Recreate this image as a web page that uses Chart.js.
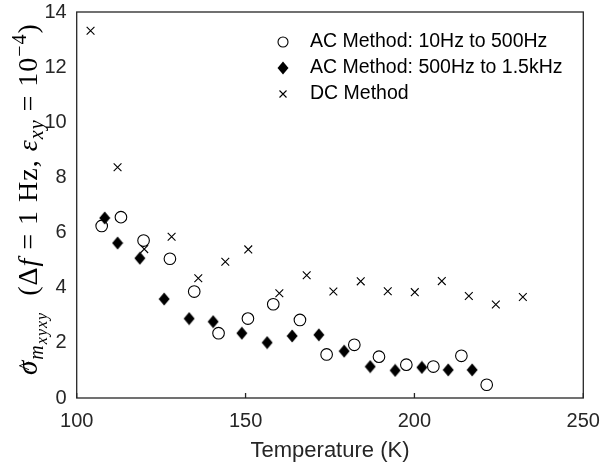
<!DOCTYPE html>
<html lang="en">
<head>
<meta charset="UTF-8">
<title>Sigma vs temperature</title>
<script src="https://cdn.jsdelivr.net/npm/chart.js"></script>
<style>
  html, body { margin: 0; padding: 0; background: #fff; }
  #wrap { width: 602px; height: 471px; }
</style>
</head>
<body>
<div id="wrap"><canvas id="chart" width="602" height="471"></canvas></div>
<script>
// values
const acLowT  = [107.4, 113.1, 119.8, 127.6, 134.8, 142.0, 150.7, 158.2, 166.1, 174.0, 182.2, 189.5, 197.6, 205.6, 213.9, 221.4];
const acLowY  = [6.24, 6.56, 5.71, 5.05, 3.86, 2.35, 2.88, 3.40, 2.83, 1.58, 1.93, 1.50, 1.21, 1.14, 1.53, 0.48];
const acHighT = [108.3, 112.1, 118.7, 125.9, 133.3, 140.4, 148.9, 156.4, 163.8, 171.7, 179.2, 186.9, 194.3, 202.2, 210.0, 217.1];
const acHighY = [6.53, 5.62, 5.07, 3.59, 2.88, 2.77, 2.35, 2.01, 2.25, 2.29, 1.70, 1.14, 1.00, 1.11, 1.02, 1.02];
const dcT     = [104.1, 112.1, 120.0, 128.1, 136.0, 144.0, 150.8, 160.0, 168.1, 176.0, 184.1, 192.1, 200.1, 208.1, 216.1, 224.1, 232.1];
const dcY     = [13.32, 8.37, 5.40, 5.85, 4.34, 4.94, 5.39, 3.80, 4.45, 3.86, 4.23, 3.87, 3.84, 4.24, 3.70, 3.39, 3.66];

const seriesLabels = ['AC Method: 10Hz to 500Hz', 'AC Method: 500Hz to 1.5kHz', 'DC Method'];
const xTicks = [100, 150, 200, 250];
const yTicks = [0, 2, 4, 6, 8, 10, 12, 14];
const xTitle = 'Temperature (K)';

const axisColor = '#262626';
const sans = '"Liberation Sans", Arial, sans-serif';
const serif = '"Liberation Serif", "DejaVu Serif", serif';

function pts(xs, ys) {
  return xs.map((v, i) => ({ x: v, y: ys[i] }));
}

// filled diamond marker (a bit taller than wide, like matlab's 'd')
const diamond = document.createElement('canvas');
diamond.width = 12; diamond.height = 14;
(function () {
  const g = diamond.getContext('2d');
  g.fillStyle = '#000';
  g.beginPath();
  g.moveTo(6, 0.5); g.lineTo(11.5, 7); g.lineTo(6, 13.5); g.lineTo(0.5, 7);
  g.closePath();
  g.fill();
})();

// y axis title: \hat{\sigma}_{m_{xyxy}} (\Delta f = 1 Hz, \varepsilon_{xy} = 10^{-4})
const S = 28;
const sub = Math.round(S * 0.72), subsub = Math.round(S * 0.56);
const yTitleParts = [
  { t: 'σ', f: `italic ${S + 1}px ${serif}`, dy: 0, hat: true },
  { t: 'm', f: `italic ${sub}px ${serif}`, dy: 6 },
  { t: 'xyxy', f: `italic ${subsub}px ${serif}`, dy: 10 },
  { t: '  (Δ', f: `${S}px ${serif}`, dy: 0 },
  { t: 'f', f: `italic ${S}px ${serif}`, dy: 0 },
  { t: ' = 1 Hz, ', f: `${S}px ${serif}`, dy: 0 },
  { t: 'ε', f: `italic ${S}px ${serif}`, dy: 0 },
  { t: 'xy', f: `italic ${sub}px ${serif}`, dy: 6 },
  { t: ' = 10', f: `${S}px ${serif}`, dy: 0 },
  { t: '−4', f: `${sub}px ${serif}`, dy: -11 },
  { t: ')', f: `${S}px ${serif}`, dy: 0 }
];

const decor = {
  id: 'decor',
  afterDraw(chart) {
    const { ctx, chartArea: a, scales: { x } } = chart;
    ctx.save();
    // box
    ctx.strokeStyle = axisColor;
    ctx.lineWidth = 1.3;
    ctx.strokeRect(a.left, a.top, a.right - a.left, a.bottom - a.top);
    // inward ticks on the bottom axis
    ctx.beginPath();
    xTicks.forEach(v => {
      const px = x.getPixelForValue(v);
      ctx.moveTo(px, a.bottom);
      ctx.lineTo(px, a.bottom - 5);
    });
    ctx.stroke();

    // rotated y title
    ctx.fillStyle = '#000';
    ctx.textBaseline = 'alphabetic';
    ctx.textAlign = 'left';
    ctx.letterSpacing = '1px';
    let total = 0;
    yTitleParts.forEach(p => { ctx.font = p.f; p.w = ctx.measureText(p.t).width; total += p.w; });
    ctx.translate(37, 199);
    ctx.rotate(-Math.PI / 2);
    let cx = -total / 2;
    yTitleParts.forEach(p => {
      ctx.font = p.f;
      ctx.fillText(p.t, cx, p.dy);
      if (p.hat) {
        ctx.font = `${Math.round(S * 0.7)}px ${serif}`;
        ctx.textAlign = 'center';
        ctx.fillText('^', cx + p.w / 2 + 2, p.dy - 4);
        ctx.textAlign = 'left';
      }
      cx += p.w;
    });
    ctx.restore();

    // legend, no frame
    ctx.save();
    const lx = 283, tx = 310, rows = [42, 68, 94];
    ctx.font = `19.5px ${sans}`;
    ctx.fillStyle = '#000';
    ctx.textBaseline = 'middle';
    chart.data.datasets.forEach((ds, i) => {
      const y = rows[i];
      ctx.strokeStyle = '#000';
      ctx.lineWidth = 1.1;
      if (i === 0) {
        ctx.beginPath(); ctx.arc(lx, y, 5, 0, Math.PI * 2); ctx.stroke();
      } else if (i === 1) {
        ctx.drawImage(diamond, lx - 6, y - 7);
      } else {
        ctx.beginPath();
        ctx.moveTo(lx - 3.5, y - 3.5); ctx.lineTo(lx + 3.5, y + 3.5);
        ctx.moveTo(lx + 3.5, y - 3.5); ctx.lineTo(lx - 3.5, y + 3.5);
        ctx.stroke();
      }
      ctx.fillText(ds.label, tx, y);
    });
    ctx.restore();
  }
};

new Chart(document.getElementById('chart').getContext('2d'), {
  type: 'scatter',
  data: {
    datasets: [
      {
        label: seriesLabels[0],
        data: pts(acLowT, acLowY),
        pointStyle: 'circle',
        pointRadius: 5.8,
        borderColor: '#000',
        backgroundColor: 'rgba(0,0,0,0)',
        pointBorderWidth: 1.1
      },
      {
        label: seriesLabels[1],
        data: pts(acHighT, acHighY),
        pointStyle: diamond,
        pointRadius: 6,
        borderColor: '#000',
        backgroundColor: '#000'
      },
      {
        label: seriesLabels[2],
        data: pts(dcT, dcY),
        pointStyle: 'crossRot',
        pointRadius: 5.5,
        borderColor: '#000',
        backgroundColor: '#000',
        pointBorderWidth: 1.1
      }
    ]
  },
  options: {
    responsive: false,
    animation: false,
    layout: { padding: { left: 0, right: 18.7, top: 12, bottom: 0 } },
    plugins: { legend: { display: false }, tooltip: { enabled: false } },
    scales: {
      x: {
        type: 'linear',
        min: 100, max: 250,
        afterBuildTicks: s => { s.ticks = xTicks.map(v => ({ value: v })); },
        afterFit: s => { s.height = 73; s.paddingLeft = 0; s.paddingRight = 0; },
        grid: { display: false, drawTicks: false },
        border: { display: false },
        ticks: { padding: 11, color: axisColor, font: { family: sans, size: 20 } },
        title: {
          display: true, text: xTitle, color: axisColor,
          font: { family: sans, size: 22 }, padding: { top: 0, bottom: 7 }
        }
      },
      y: {
        type: 'linear',
        min: 0, max: 14,
        afterBuildTicks: s => { s.ticks = yTicks.map(v => ({ value: v })); },
        afterFit: s => { s.width = 76.7; s.paddingTop = 0; s.paddingBottom = 0; },
        grid: { display: false, drawTicks: false },
        border: { display: false },
        ticks: { padding: 10, color: axisColor, font: { family: sans, size: 20 } }
      }
    }
  },
  plugins: [decor]
});
</script>
</body>
</html>
